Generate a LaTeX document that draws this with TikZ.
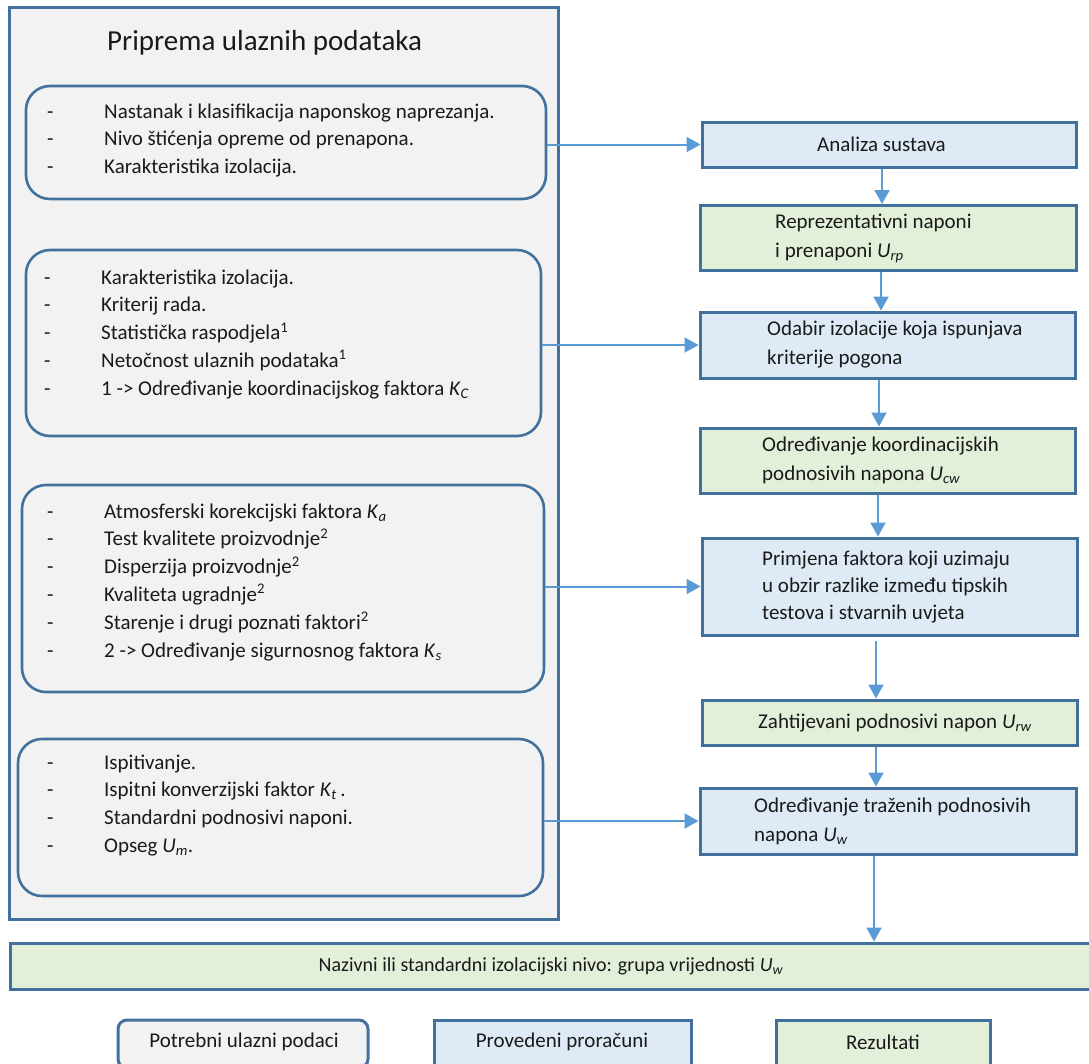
\documentclass[tikz,border=0pt]{standalone}
\usepackage{fontspec}
\setmainfont{Carlito}
\usetikzlibrary{arrows.meta}
\definecolor{edge}{HTML}{41719C}
\definecolor{arrowc}{HTML}{5B9BD5}
\definecolor{grayfill}{HTML}{F2F2F2}
\definecolor{bluefill}{HTML}{DEEBF7}
\definecolor{greenfill}{HTML}{E2F0D9}
\definecolor{txtc}{HTML}{1A1A1A}
\newcommand\ssub[2]{\textit{#1}\textsubscript{\textit{#2}}}
\newcommand\dashlist[1]{\begin{tabular}[t]{@{}p{57pt}@{}l@{}}#1\end{tabular}}
\begin{document}
\begin{tikzpicture}[x=1pt,y=-1pt,
  every node/.style={font=\fontsize{21}{28}\selectfont, text=txtc, inner sep=0pt},
  frame/.style={draw=edge, line width=3pt, fill=grayfill},
  listbox/.style={draw=edge, line width=2.6pt, rounded corners=24pt},
  calcbox/.style={draw=edge, line width=3pt, fill=bluefill},
  resbox/.style={draw=edge, line width=3pt, fill=greenfill},
  inbox/.style={draw=edge, line width=3pt, fill=grayfill, rounded corners=9pt},
  listtext/.style={anchor=base west, font=\fontsize{21}{27.8}\selectfont},
  boxtext/.style={anchor=west, align=left, font=\fontsize{21}{29}\selectfont},
  arr/.style={draw=arrowc, line width=2pt, -{Triangle[length=14pt,width=15pt]}},
]
\useasboundingbox (0,0) rectangle (1089,1063);

% left frame
\node[frame, minimum width=549pt, minimum height=912pt] (outer) at (283.5,463) {};
\node[anchor=west, font=\fontsize{29}{34}\selectfont] (title) at (107,43) {Priprema ulaznih podataka};

\node[listbox, minimum width=520pt, minimum height=113pt] (b1) at (286,142.5) {};
\node[listbox, minimum width=515pt, minimum height=186pt] (b2) at (283.5,343) {};
\node[listbox, minimum width=522pt, minimum height=207pt] (b3) at (283,588.5) {};
\node[listbox, minimum width=525pt, minimum height=157pt] (b4) at (280.5,817.5) {};

\node[listtext] (t1) at (47,118) {\dashlist{%
 - & Nastanak i klasifikacija naponskog naprezanja.\\
 - & Nivo štićenja opreme od prenapona.\\
 - & Karakteristika izolacija.}};
\node[listtext] (t2) at (44,284) {\dashlist{%
 - & Karakteristika izolacija.\\
 - & Kriterij rada.\\
 - & Statistička raspodjela\textsuperscript{1}\\
 - & Netočnost ulaznih podataka\textsuperscript{1}\\
 - & 1 -> Određivanje koordinacijskog faktora \ssub{K}{C}}};
\node[listtext] (t3) at (47,518) {\dashlist{%
 - & Atmosferski korekcijski faktora \ssub{K}{a}\\
 - & Test kvalitete proizvodnje\textsuperscript{2}\\
 - & Disperzija proizvodnje\textsuperscript{2}\\
 - & Kvaliteta ugradnje\textsuperscript{2}\\
 - & Starenje i drugi poznati faktori\textsuperscript{2}\\
 - & 2 -> Određivanje sigurnosnog faktora \ssub{K}{s}}};
\node[listtext] (t4) at (47,769) {\dashlist{%
 - & Ispitivanje.\\
 - & Ispitni konverzijski faktor \ssub{K}{t}\,.\\
 - & Standardni podnosivi naponi.\\
 - & Opseg \ssub{U}{m}.}};

% right column
\node[calcbox, minimum width=374pt, minimum height=45pt] (an) at (889,144.5) {};
\node[resbox, minimum width=376pt, minimum height=65pt] (rep) at (888,238) {};
\node[calcbox, minimum width=375pt, minimum height=66pt] (od) at (887.5,345) {};
\node[resbox, minimum width=375pt, minimum height=65pt] (koord) at (887.5,460.5) {};
\node[calcbox, minimum width=375pt, minimum height=97pt] (prim) at (889.5,586.5) {};
\node[resbox, minimum width=375pt, minimum height=45pt] (zah) at (889.5,722.5) {};
\node[calcbox, minimum width=376pt, minimum height=66pt] (traz) at (888,821) {};
\node[resbox, minimum width=1085pt, minimum height=46pt] (naz) at (552.5,966) {};

\node[boxtext] (tan) at (817,144.5) {Analiza sustava};
\node[boxtext] (trep) at (775,238) {Reprezentativni naponi\\ i prenaponi \ssub{U}{rp}};
\node[boxtext] (tod) at (767,345) {Odabir izolacije koja ispunjava\\ kriterije pogona};
\node[boxtext] (tkoord) at (762,460.5) {Određivanje koordinacijskih\\ podnosivih napona \ssub{U}{cw}};
\node[boxtext, font=\fontsize{21}{27}\selectfont] (tprim) at (762,586.5) {Primjena faktora koji uzimaju\\ u obzir razlike između tipskih\\ testova i stvarnih uvjeta};
\node[boxtext] (tzah) at (758,722.5) {Zahtijevani podnosivi napon \ssub{U}{rw}};
\node[boxtext] (ttraz) at (754,821) {Određivanje traženih podnosivih\\ napona \ssub{U}{w}};
\node[font=\fontsize{20}{24}\selectfont] (tnaz) at (551,966) {Nazivni ili standardni izolacijski nivo: grupa vrijednosti \ssub{U}{w}};

% legend
\node[inbox, minimum width=250pt, minimum height=48pt] (leg1) at (243,1044) {};
\node[calcbox, minimum width=257pt, minimum height=48pt] (leg2) at (562.5,1044) {};
\node[resbox, minimum width=214pt, minimum height=48pt] (leg3) at (883,1044) {};
\node (tleg1) at (244,1042) {Potrebni ulazni podaci};
\node (tleg2) at (562,1042) {Provedeni proračuni};
\node (tleg3) at (883,1042) {Rezultati};

% arrows
\draw[arr] (b1.east |- an.west) -- (an.west);
\draw[arr] (b2.east |- od.west) -- (od.west);
\draw[arr] (b3.east |- prim.west) -- (prim.west);
\draw[arr] (b4.east |- traz.west) -- (traz.west);

\coordinate (c1) at (882,0);
\coordinate (c2) at (881,0);
\coordinate (c3) at (879,0);
\coordinate (c4) at (878,0);
\coordinate (c5) at (876,641);
\coordinate (c6) at (876,0);
\coordinate (c7) at (874,0);
\draw[arr] (an.south -| c1) -- (rep.north -| c1);
\draw[arr] (rep.south -| c2) -- (od.north -| c2);
\draw[arr] (od.south -| c3) -- (koord.north -| c3);
\draw[arr] (koord.south -| c4) -- (prim.north -| c4);
\draw[arr] (c5) -- (zah.north -| c5);
\draw[arr] (zah.south -| c6) -- (traz.north -| c6);
\draw[arr] (traz.south -| c7) -- (naz.north -| c7);
\end{tikzpicture}
\end{document}
